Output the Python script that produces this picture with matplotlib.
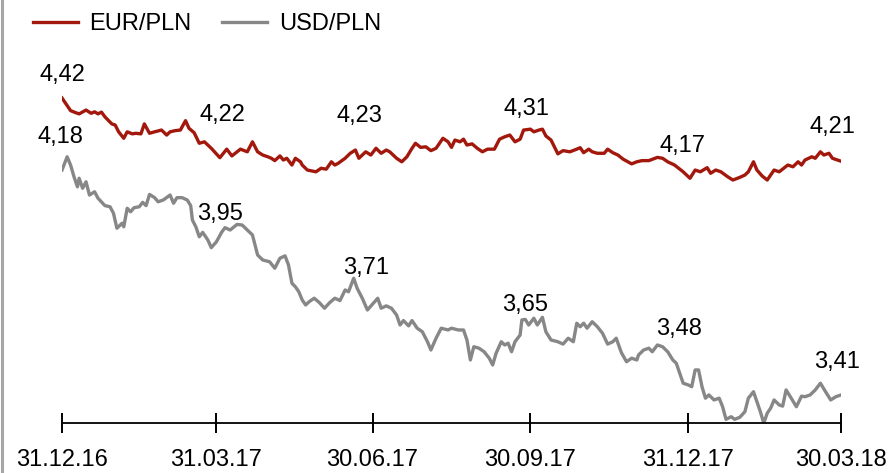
import pandas as pd
import matplotlib
matplotlib.use('Agg')
import matplotlib.pyplot as plt
from matplotlib.lines import Line2D

plt.rcParams['font.family'] = ['Liberation Sans', 'DejaVu Sans']

# days counted from 31.12.2016
start = pd.Timestamp('2016-12-31')

eur_days = [0, 5, 8, 10, 14, 17, 19, 21, 23, 25,
            29, 31, 33, 36, 38, 41, 43, 46, 48, 51,
            54, 58, 61, 63, 66, 69, 72, 74, 77, 80,
            83, 87, 92, 96, 99, 104, 108, 111, 114, 117,
            120, 122, 124, 127, 129, 131, 134, 136, 139, 140,
            143, 148, 151, 154, 157, 159, 161, 165, 168, 171,
            173, 177, 180, 183, 186, 189, 191, 195, 198, 201,
            204, 206, 209, 212, 215, 218, 222, 225, 227, 229,
            232, 234, 236, 239, 242, 245, 248, 252, 255, 258,
            261, 264, 267, 269, 273, 275, 278, 280, 282, 285,
            289, 292, 296, 300, 302, 304, 307, 309, 312, 316,
            318, 321, 324, 327, 332, 335, 338, 342, 347, 350,
            353, 357, 362, 366, 369, 372, 376, 378, 381, 384,
            388, 391, 395, 398, 400, 403, 405, 408, 411, 415,
            418, 423, 426, 429, 431, 433, 437, 439, 442, 444,
            447, 449, 454]
eur_pln = [4.424, 4.381, 4.374, 4.370, 4.383, 4.372, 4.377, 4.370, 4.376, 4.360,
           4.336, 4.332, 4.309, 4.287, 4.309, 4.302, 4.304, 4.302, 4.336, 4.304,
           4.309, 4.315, 4.298, 4.309, 4.313, 4.315, 4.347, 4.321, 4.306, 4.270,
           4.275, 4.253, 4.221, 4.250, 4.227, 4.250, 4.241, 4.275, 4.241, 4.230,
           4.224, 4.219, 4.211, 4.227, 4.213, 4.219, 4.196, 4.219, 4.207, 4.196,
           4.179, 4.173, 4.185, 4.182, 4.207, 4.196, 4.202, 4.219, 4.236, 4.247,
           4.219, 4.241, 4.230, 4.253, 4.236, 4.247, 4.241, 4.219, 4.207, 4.224,
           4.253, 4.270, 4.256, 4.258, 4.245, 4.253, 4.287, 4.275, 4.256, 4.281,
           4.275, 4.284, 4.264, 4.268, 4.253, 4.241, 4.250, 4.250, 4.284, 4.292,
           4.298, 4.275, 4.284, 4.315, 4.318, 4.309, 4.315, 4.318, 4.295, 4.281,
           4.234, 4.245, 4.241, 4.250, 4.255, 4.238, 4.250, 4.241, 4.236, 4.236,
           4.250, 4.238, 4.230, 4.216, 4.200, 4.207, 4.211, 4.211, 4.222, 4.219,
           4.207, 4.196, 4.173, 4.151, 4.179, 4.173, 4.187, 4.168, 4.179, 4.173,
           4.156, 4.145, 4.154, 4.162, 4.173, 4.207, 4.179, 4.159, 4.145, 4.179,
           4.173, 4.196, 4.190, 4.207, 4.196, 4.213, 4.224, 4.219, 4.241, 4.230,
           4.236, 4.219, 4.209]

usd_days = [0, 3, 5, 7, 9, 10, 12, 14, 16, 19,
            21, 25, 28, 30, 32, 35, 36, 38, 40, 42,
            45, 47, 49, 51, 54, 56, 59, 63, 65, 67,
            70, 73, 75, 76, 78, 80, 82, 85, 87, 90,
            93, 95, 98, 102, 105, 108, 111, 114, 117, 121,
            124, 127, 130, 132, 134, 136, 138, 140, 142, 144,
            147, 150, 153, 156, 159, 162, 165, 167, 170, 172,
            175, 178, 181, 184, 186, 189, 192, 195, 197, 199,
            202, 204, 207, 210, 213, 215, 218, 221, 225, 227,
            231, 234, 236, 238, 240, 243, 246, 249, 251, 253,
            256, 258, 260, 262, 264, 267, 268, 270, 272, 275,
            277, 280, 282, 285, 289, 292, 295, 298, 300, 302,
            304, 306, 309, 312, 315, 318, 321, 323, 326, 329,
            332, 335, 336, 339, 342, 344, 347, 350, 353, 356,
            358, 360, 362, 365, 367, 369, 371, 373, 375, 377,
            380, 383, 385, 387, 390, 392, 395, 398, 400, 403,
            405, 407, 409, 411, 413, 415, 418, 420, 422, 425,
            428, 431, 433, 436, 439, 442, 445, 448, 451, 454]
usd_pln = [4.179, 4.224, 4.196, 4.156, 4.122, 4.151, 4.117, 4.139, 4.094, 4.105,
           4.083, 4.058, 4.054, 4.032, 3.981, 3.998, 3.986, 4.049, 4.037, 4.051,
           4.054, 4.069, 4.058, 4.096, 4.085, 4.071, 4.077, 4.094, 4.066, 4.085,
           4.085, 4.077, 4.058, 4.009, 3.986, 3.952, 3.967, 3.941, 3.915, 3.935,
           3.967, 3.983, 3.975, 3.994, 3.992, 3.975, 3.958, 3.890, 3.873, 3.867,
           3.845, 3.879, 3.887, 3.856, 3.794, 3.782, 3.765, 3.737, 3.720, 3.731,
           3.743, 3.728, 3.709, 3.728, 3.743, 3.735, 3.771, 3.765, 3.811, 3.777,
           3.743, 3.703, 3.723, 3.743, 3.709, 3.717, 3.709, 3.686, 3.652, 3.667,
           3.649, 3.667, 3.641, 3.629, 3.595, 3.567, 3.607, 3.641, 3.635, 3.641,
           3.635, 3.635, 3.601, 3.533, 3.578, 3.573, 3.561, 3.539, 3.516, 3.556,
           3.595, 3.584, 3.590, 3.561, 3.595, 3.618, 3.669, 3.671, 3.652, 3.675,
           3.652, 3.678, 3.629, 3.601, 3.595, 3.587, 3.607, 3.595, 3.658, 3.646,
           3.658, 3.641, 3.663, 3.646, 3.624, 3.587, 3.595, 3.607, 3.558, 3.527,
           3.539, 3.533, 3.550, 3.567, 3.573, 3.561, 3.584, 3.578, 3.561, 3.533,
           3.522, 3.488, 3.454, 3.448, 3.442, 3.499, 3.499, 3.442, 3.403, 3.414,
           3.397, 3.403, 3.374, 3.331, 3.340, 3.331, 3.338, 3.357, 3.403, 3.425,
           3.391, 3.357, 3.318, 3.352, 3.369, 3.397, 3.380, 3.376, 3.431, 3.403,
           3.374, 3.410, 3.408, 3.414, 3.431, 3.454, 3.425, 3.397, 3.408, 3.414]

tick_dates = ['2016-12-31', '2017-03-31', '2017-06-30', '2017-09-30', '2017-12-31', '2018-03-30']
tick_labels = ['31.12.16', '31.03.17', '30.06.17', '30.09.17', '31.12.17', '30.03.18']
eur_marks = [4.42, 4.22, 4.23, 4.31, 4.17, 4.21]
usd_marks = [4.18, 3.95, 3.71, 3.65, 3.48, 3.41]

eur_dates = start + pd.to_timedelta(eur_days, unit='D')
usd_dates = start + pd.to_timedelta(usd_days, unit='D')
ticks = pd.to_datetime(tick_dates)

red = '#a3180c'
grey = '#878787'
fs = 17

W, H = 888, 473
fig = plt.figure(figsize=(W / 100, H / 100), dpi=100)
# axes placed in pixels: left 62, right 841, bottom line at y=423, top at y=20
ax = fig.add_axes([62 / W, 50 / H, 779 / W, 403 / H])

ax.plot(eur_dates, eur_pln, color=red, lw=2.4, label='EUR/PLN', solid_joinstyle='round')
ax.plot(usd_dates, usd_pln, color=grey, lw=2.4, label='USD/PLN', solid_joinstyle='round')

ax.set_xlim(ticks[0], ticks[-1])
ax.set_ylim(3.3186, 4.6893)

for s in ['top', 'right', 'left']:
    ax.spines[s].set_visible(False)
ax.spines['bottom'].set_linewidth(1.3)
ax.set_yticks([])
ax.set_xticks(ticks)
ax.set_xticklabels(tick_labels)
ax.tick_params(axis='x', direction='inout', length=14, width=1.4, pad=12, labelsize=fs)

# value labels above the lines at the tick dates (offsets in pixels)
eur_off = [(0, 24), (6, 43), (-13, 39), (-4, 23), (-6, 27), (-9, 34)]
usd_off = [(-2, 33), (4, 23), (-6, 40), (-5, 21), (-9, 47), (-4, 34)]
for d, v, o in zip(ticks, eur_marks, eur_off):
    ax.annotate(f'{v:.2f}'.replace('.', ','), (d, v), xytext=o, textcoords='offset pixels',
                ha='center', va='center', fontsize=fs, annotation_clip=False)
for d, v, o in zip(ticks, usd_marks, usd_off):
    ax.annotate(f'{v:.2f}'.replace('.', ','), (d, v), xytext=o, textcoords='offset pixels',
                ha='center', va='center', fontsize=fs, annotation_clip=False)

fig.legend(loc='upper left', bbox_to_anchor=(14 / W, 1 + 6 / H), ncol=2, frameon=False,
           fontsize=fs, handlelength=1.9, handletextpad=0.5, columnspacing=1.3,
           borderpad=0.3)

# grey frame line on the left edge
fig.add_artist(Line2D([1.5 / W, 1.5 / W], [0, 1], color='#a6a6a6', lw=2.2))

fig.savefig('out.png', dpi=100)
